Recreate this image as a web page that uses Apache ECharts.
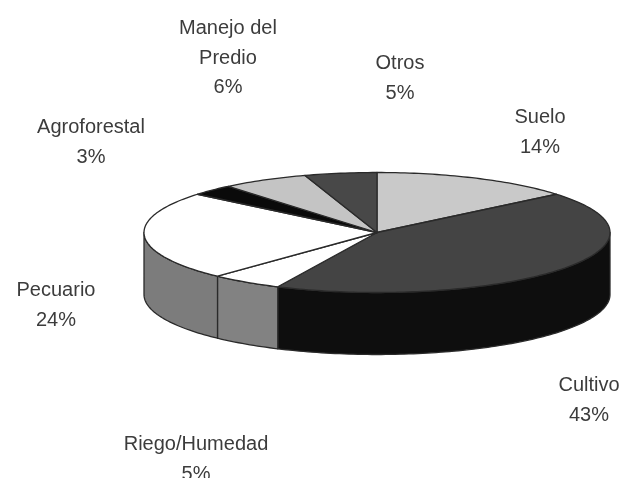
<!DOCTYPE html>
<html><head><meta charset="utf-8">
<style>html,body{margin:0;padding:0;background:#fff;overflow:hidden}#c{width:622px;height:478px;filter:blur(0.45px)}</style>
<script src="https://cdn.jsdelivr.net/npm/echarts@6/dist/echarts.min.js"></script>
</head><body><div id="c"></div>
<script>
const categories = ['Suelo','Cultivo','Riego/Humedad','Pecuario','Agroforestal','Manejo del\nPredio','Otros'];
const shares = [14,43,5,24,3,6,5];
const topColors = ['#c9c9c9','#444444','#ffffff','#ffffff','#0a0a0a','#c4c4c4','#484848'];
const wallColors = ['#999999','#0e0e0e','#828282','#7c7c7c','#000000','#888888','#222222'];
const labelAnchors = [[540,117],[589,385],[196,444],[56,290],[91,127],[228,28],[400,63]];
const cx=377, cy=232.5, rx=233, ry=60, depth=62;
const total = shares.reduce((a,b)=>a+b,0);
const starts = []; shares.reduce((a,v,i)=>(starts[i]=a, a+v),0);
const toAngle = s => s/total*2*Math.PI;
const rim = (a,dy=0) => [cx+rx*Math.sin(a), cy-ry*Math.cos(a)+dy];
function arc(a0,a1,dy){const n=Math.max(2,Math.ceil((a1-a0)/0.02));const p=[];for(let k=0;k<=n;k++)p.push(rim(a0+(a1-a0)*k/n,dy));return p;}
const stroke={stroke:'#2a2a2a',lineWidth:1.3,lineJoin:'round'};
const chart = echarts.init(document.getElementById('c'),null,{renderer:'canvas'});
chart.setOption({
  animation:false,
  series:[
   {type:'custom',coordinateSystem:'none',silent:true,data:shares,z:1,
    renderItem(p,api){
      const i=p.dataIndex, v=api.value(0);
      const a0=Math.max(toAngle(starts[i]),Math.PI/2), a1=Math.min(toAngle(starts[i]+v),Math.PI*1.5);
      if(a1<=a0) return {type:'group',children:[]};
      const pts=arc(a0,a1,0).concat(arc(a0,a1,depth).reverse());
      return {type:'polygon',shape:{points:pts},style:{fill:wallColors[i],...stroke}};
    }},
   {type:'custom',coordinateSystem:'none',silent:true,data:shares,z:2,
    renderItem(p,api){
      const i=p.dataIndex, v=api.value(0);
      const pts=[[cx,cy]].concat(arc(toAngle(starts[i]),toAngle(starts[i]+v),0));
      return {type:'polygon',shape:{points:pts},style:{fill:topColors[i],...stroke}};
    }},
   {type:'custom',coordinateSystem:'none',silent:true,data:shares,z:3,
    renderItem(p,api){
      const i=p.dataIndex;
      return {type:'text',x:labelAnchors[i][0],y:labelAnchors[i][1]-14,
        style:{text:categories[i]+'\n'+api.value(0)+'%',fill:'#3c3c3c',font:'20px "Liberation Sans"',
          align:'center',verticalAlign:'top',lineHeight:29.5}};
    }}
  ]
});
</script></body></html>
